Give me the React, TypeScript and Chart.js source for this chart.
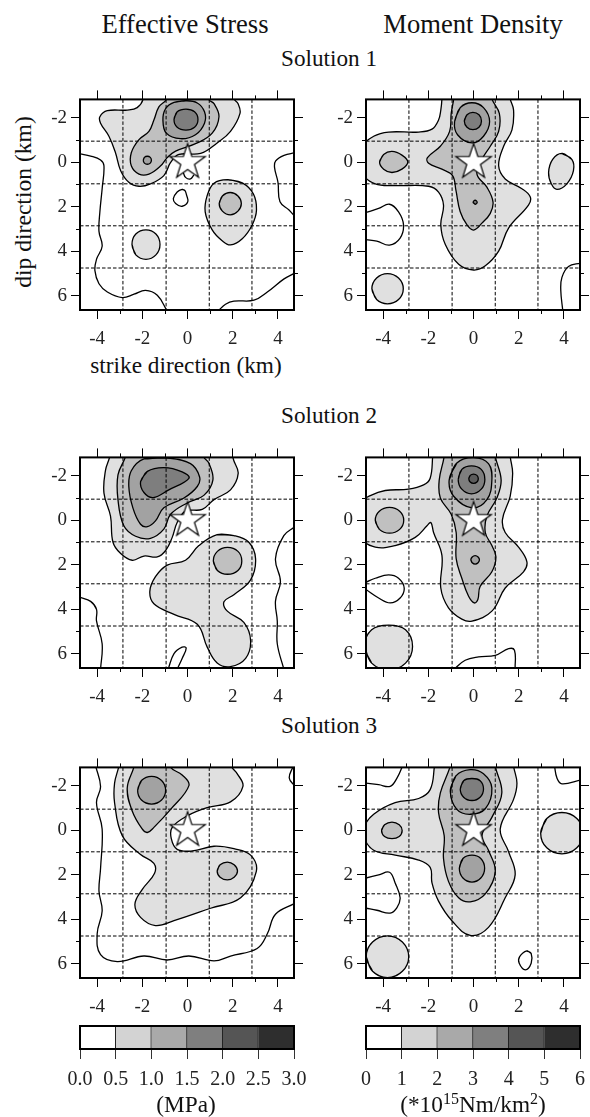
import React, { useEffect, useRef } from "react";
import { Chart, registerables } from "chart.js";
Chart.register(...registerables);

type P = number[][];
const FONT = "'Liberation Serif', 'Times New Roman', serif";

const xMajor = [-4, -2, 0, 2, 4];
const xMinor = [-3, -1, 1, 3];
const yMajor = [-2, 0, 2, 4, 6];
const yMinor = [-1, 1, 3, 5];
const xRange = [-4.76, 4.71];
const yRange = [-2.83, 6.65];
const gridX = [-2.86, -0.95, 0.96, 2.85];
const gridY = [-0.95, 0.97, 2.86, 4.76];
const levelColors = ["#ffffff", "#e0e0e0", "#c0c0c0", "#a2a2a2", "#7e7e7e", "#5c5c5c"];

// Panel 1: Effective Stress, Solution 1
const es1a: P = [[-1.96,-2.86],[-2.23,-2.46],[-2.67,-2.35],[-3.55,-2.32],[-3.88,-2.05],[-3.85,-1.76],[-3.48,-1.17],[-3.19,-0.43],[-2.96,0.38],[-2.6,0.9],[-2.15,1.08],[-1.64,0.97],[-1.05,0.6],[-0.75,0.01],[-0.38,-0.35],[0.58,-0.4],[1.31,-0.87],[1.9,-1.39],[2.32,-2.2],[2.23,-2.64],[2.05,-2.86],[2,-3.3],[-2,-3.3]];
const es1b: P = [[-0.94,-2.83],[-1.27,-2.49],[-1.49,-1.9],[-1.71,-1.39],[-2.15,-1.02],[-2.49,-0.43],[-2.49,0.16],[-2.15,0.53],[-1.71,0.53],[-1.19,0.16],[-0.9,-0.21],[-0.53,-0.5],[0.43,-0.87],[1.09,-1.31],[1.39,-2.05],[1.17,-2.64],[0.94,-2.83],[0.9,-3.3],[-0.9,-3.3]];
const es1c: P = [[-0.6,-2.7],[-0.97,-2.42],[-1.09,-1.9],[-0.94,-1.31],[-0.31,-1.06],[0.35,-1.24],[0.75,-1.76],[0.75,-2.27],[0.43,-2.67],[-0.09,-2.77]];
const es1d: P = [[-0.6,-1.93],[-0.46,-1.58],[-0.07,-1.45],[0.31,-1.58],[0.46,-1.93],[0.31,-2.27],[-0.07,-2.39],[-0.46,-2.27]];
const es1e: P = [[-1.96,-0.09],[-1.91,0.04],[-1.78,0.09],[-1.65,0.04],[-1.6,-0.09],[-1.65,-0.22],[-1.78,-0.27],[-1.91,-0.22]];
const es1f: P = [[-0.24,1.22],[-0.46,1.34],[-0.63,1.64],[-0.53,1.86],[-0.24,1.98],[0.01,1.78],[-0.04,1.49],[-0.12,1.27]];
const es1g: P = [[1.76,0.78],[1.17,0.94],[0.87,1.49],[0.78,2.23],[1.09,3.04],[1.53,3.53],[1.9,3.72],[2.42,3.44],[2.86,2.82],[3.05,2.15],[2.91,1.42],[2.42,0.93]];
const es1h: P = [[1.4,1.86],[1.54,2.2],[1.89,2.37],[2.23,2.2],[2.38,1.86],[2.23,1.52],[1.89,1.36],[1.54,1.52]];
const es1i: P = [[-2.46,3.7],[-2.29,3.23],[-1.84,3.04],[-1.4,3.23],[-1.22,3.7],[-1.4,4.17],[-1.84,4.37],[-2.29,4.17]];
const es1j: P = [[-0.19,0.46],[-0.09,0.68],[0.13,0.75],[0.28,0.57]];
const es1k: P = [[-4.76,-0.38],[-4.29,-0.28],[-3.85,-0.1],[-3.7,0.16],[-3.78,1.19],[-3.88,2.23],[-3.92,3.11],[-3.78,3.78],[-4.03,4.37],[-4.1,4.88],[-3.92,5.47],[-3.55,5.84],[-2.89,6.09],[-2.37,5.94],[-1.86,5.77],[-1.34,5.99],[-0.9,6.7]];
const es1l: P = [[1.35,6.7],[1.68,6.39],[2.05,6.25],[2.94,6.21],[3.53,5.84],[4.27,5.25],[4.75,4.99]];
const es1m: P = [[4.75,-0.43],[4.27,-0.31],[3.9,-0.06],[3.85,0.24],[4,0.9],[4.09,1.78],[4.49,2.15],[4.75,2.45]];

// Panel 2: Moment Density, Solution 1
const md1a: P = [[-1.4,-2.86],[-1.45,-2.35],[-1.55,-1.9],[-1.84,-1.49],[-2.43,-1.36],[-3.76,-1.36],[-4.42,-1.17],[-4.87,-0.72],[-4.87,0.53],[-4.35,0.97],[-3.47,1.05],[-1.99,1.08],[-1.55,1.34],[-1.33,1.93],[-1.45,2.82],[-1.25,3.7],[-0.66,4.59],[0,4.85],[0.52,4.66],[1.11,4],[1.55,2.96],[2.43,1.93],[2.51,1.56],[2.14,1.19],[1.4,0.75],[1.11,0.16],[1.33,-0.72],[1.7,-1.46],[1.77,-2.35],[1.62,-2.86],[1.6,-3.3],[-1.4,-3.3]];
const md1b: P = [[-0.88,-2.86],[-0.99,-2.2],[-1.06,-1.39],[-1.47,-0.72],[-2.04,-0.21],[-1.99,0.04],[-1.4,0.31],[-0.93,0.6],[-0.78,1.27],[-0.59,2.23],[-0.29,2.82],[0,3.05],[0.37,2.74],[0.74,2.3],[0.86,1.78],[0.59,1.12],[0.15,0.53],[0.37,-0.13],[0.74,-0.72],[1.11,-1.39],[1.14,-2.2],[0.81,-2.86],[0.8,-3.3],[-0.88,-3.3]];
const md1c: P = [[-0.84,-1.83],[-0.71,-1.24],[-0.07,-0.87],[0.44,-1.17],[0.71,-1.83],[0.44,-2.46],[-0.07,-2.68],[-0.59,-2.46]];
const md1d: P = [[-0.41,-1.86],[-0.29,-1.58],[-0.03,-1.47],[0.24,-1.58],[0.35,-1.86],[0.24,-2.14],[-0.03,-2.25],[-0.29,-2.14]];
const md1e: P = [[-4.16,-0.01],[-3.98,0.31],[-3.61,0.46],[-3.17,0.31],[-2.91,-0.01],[-3.17,-0.32],[-3.61,-0.49],[-3.98,-0.35]];
const md1f: P = [[-0.02,1.8],[0.07,1.71],[0.16,1.8],[0.07,1.89]];
const md1g: P = [[3.91,-0.4],[3.5,-0.13],[3.32,0.46],[3.44,0.97],[3.69,1.22],[4.13,0.97],[4.42,0.38],[4.35,-0.13]];
const md1h: P = [[-4.5,5.69],[-4.29,5.21],[-3.81,5.01],[-3.32,5.21],[-3.11,5.69],[-3.32,6.18],[-3.81,6.37],[-4.29,6.18]];
const md1i: P = [[-4.76,2.26],[-4.2,2.08],[-3.72,1.89],[-3.32,2.23],[-3.1,2.82],[-3.25,3.41],[-3.72,3.73],[-4.28,3.55],[-4.76,3.48]];
const md1j: P = [[4.75,4.54],[4.2,4.69],[3.91,5.18],[3.86,5.77],[3.95,6.7]];

// Panel 3: Effective Stress, Solution 2
const es2a: P = [[-3.44,-2.88],[-3.63,-2.26],[-3.7,-1.22],[-3.41,-0.19],[-3.3,0.99],[-2.96,1.5],[-2.45,1.8],[-1.93,1.61],[-1.34,1.65],[-0.97,1.36],[-0.68,0.77],[-0.46,0.1],[-0.09,-0.41],[0.65,-0.49],[1.17,-0.93],[1.9,-1.37],[2.24,-2.11],[2.02,-2.77],[2,-3.3],[-3.4,-3.3]];
const es2b: P = [[-2.74,-2.88],[-3.08,-2.04],[-3.08,-0.93],[-2.82,0.25],[-2.3,0.72],[-1.64,0.81],[-1.05,0.4],[-0.75,-0.27],[-0.01,-0.78],[0.72,-1.12],[1.12,-1.81],[0.94,-2.58],[0.72,-2.85],[0.7,-3.3],[-2.7,-3.3]];
const es2c: P = [[-1.93,-2.76],[-2.49,-2.23],[-2.6,-1.52],[-2.42,-0.56],[-2.08,0.18],[-1.78,0.29],[-1.42,0.03],[-1.05,-0.56],[-0.16,-1],[0.43,-1.52],[0.53,-1.96],[0.13,-2.55],[-0.9,-2.8]];
const es2d: P = [[-2.08,-1.74],[-1.93,-1.25],[-1.52,-1.02],[-0.83,-1.37],[0.06,-1.89],[-0.24,-2.18],[-1.05,-2.37],[-1.78,-2.2]];
const es2e: P = [[1.31,0.65],[0.5,1.14],[-0.09,1.8],[-0.9,2.02],[-1.42,2.54],[-1.67,3.2],[-1.49,3.76],[-0.6,4.24],[0.43,4.68],[0.87,5.71],[1.31,6.42],[1.9,6.59],[2.57,6.22],[2.79,5.41],[2.49,4.6],[1.76,4.09],[1.61,3.67],[2.05,3.35],[2.79,2.68],[3.01,1.73],[2.71,0.99],[2.05,0.69]];
const es2f: P = [[1.14,1.83],[1.32,1.4],[1.77,1.22],[2.23,1.4],[2.4,1.83],[2.23,2.26],[1.77,2.43],[1.32,2.26]];
const es2g: P = [[-4.76,3.47],[-4.29,3.65],[-4.03,4.01],[-4.03,4.53],[-3.78,5.56],[-3.85,6.7]];
const es2h: P = [[4.75,0.29],[4.26,0.69],[3.89,1.73],[4.11,2.76],[3.89,3.64],[3.97,4.53],[3.97,5.56],[4.26,6.7]];
const es2i: P = [[-0.86,6.7],[-0.6,6],[-0.24,5.71],[-0.06,5.75],[-0.24,6.22],[-0.46,6.7]];

// Panel 4: Moment Density, Solution 2
const md2a: P = [[-1.81,-2.88],[-1.92,-1.89],[-2.21,-1.59],[-2.88,-1.4],[-3.91,-1.34],[-4.57,-1.11],[-4.87,-0.86],[-4.87,0.84],[-4.35,1.21],[-3.47,1.14],[-2.58,0.77],[-2.06,0.25],[-1.89,0.1],[-1.77,0.55],[-1.4,1.58],[-1.45,3.05],[-1.11,3.94],[-0.52,4.45],[-0.07,4.54],[0.81,4.09],[1.4,3.05],[2.21,2.32],[2.36,1.87],[1.99,1.21],[1.4,0.55],[1.28,-0.04],[1.62,-1.08],[1.73,-2.11],[1.62,-2.88],[1.6,-3.3],[-1.8,-3.3]];
const md2b: P = [[-1.3,-2.88],[-1.52,-1.81],[-1.47,-1],[-0.99,-0.27],[-0.77,0.55],[-0.77,1.73],[-0.52,2.61],[-0.22,3.42],[0.03,3.72],[0.19,3.57],[0.29,2.98],[0.81,2.32],[0.99,1.65],[0.81,1.14],[0.52,0.55],[0.59,-0.19],[1.03,-1],[1.22,-1.81],[0.96,-2.88],[0.95,-3.3],[-1.3,-3.3]];
const md2c: P = [[-1.08,-1.81],[-0.88,-1.08],[-0.07,-0.56],[0.59,-0.93],[0.81,-1.81],[0.66,-2.55],[0,-2.82],[-0.74,-2.58]];
const md2d: P = [[-0.68,-1.84],[-0.52,-1.4],[-0.09,-1.19],[0.34,-1.4],[0.5,-1.84],[0.34,-2.29],[-0.09,-2.45],[-0.52,-2.29]];
const md2e: P = [[-0.21,-1.87],[-0.15,-1.72],[0,-1.66],[0.15,-1.72],[0.21,-1.87],[0.15,-2.02],[0,-2.08],[-0.15,-2.02]];
const md2f: P = [[-0.12,1.78],[-0.06,1.65],[0.07,1.59],[0.2,1.65],[0.26,1.78],[0.2,1.91],[0.07,1.97],[-0.06,1.91]];
const md2g: P = [[-4.35,0],[-4.17,-0.41],[-3.72,-0.58],[-3.27,-0.41],[-3.09,0],[-3.27,0.41],[-3.72,0.58],[-4.17,0.41]];
const md2h: P = [[-4.82,5.68],[-4.51,4.93],[-3.76,4.72],[-3.01,4.93],[-2.7,5.68],[-3.01,6.43],[-3.76,6.74],[-4.51,6.43]];
const md2i: P = [[-4.76,2.79],[-4.35,2.61],[-3.76,2.46],[-3.32,2.61],[-3.07,3.05],[-3.25,3.5],[-3.69,3.72],[-4.2,3.5],[-4.76,3.12]];
const md2j: P = [[-0.85,6.7],[-0.37,6.3],[0.22,6.15],[0.96,6.08],[1.55,5.78],[1.81,5.85],[1.84,6.7]];

// Panel 5: Effective Stress, Solution 3
const es3a: P = [[-3.04,-2.89],[-3.23,-2.12],[-3.23,-1.24],[-2.89,0.24],[-2.08,1.09],[-1.49,1.49],[-1.46,1.93],[-2.01,2.67],[-2.33,3.33],[-2.08,3.92],[-1.42,4.29],[-0.6,4.07],[1.02,3.51],[2.35,3.04],[3.04,1.86],[2.79,1.12],[2.05,0.83],[1.17,0.72],[0.21,0.93],[-0.46,0.86],[-0.72,0.38],[-0.68,-0.13],[-0.01,-0.65],[0.87,-1.02],[1.9,-1.28],[2.45,-1.98],[2.2,-2.54],[1.93,-2.89],[1.9,-3.3],[-3,-3.3]];
const es3b: P = [[-2.37,-2.86],[-2.67,-1.9],[-2.45,-0.87],[-2.01,-0.06],[-1.78,0.1],[-1.49,-0.13],[-0.75,-0.94],[0.06,-2.01],[-0.24,-2.49],[-0.75,-2.83],[-0.8,-3.3],[-2.3,-3.3]];
const es3c: P = [[-2.21,-1.8],[-2.04,-1.36],[-1.59,-1.18],[-1.15,-1.36],[-0.97,-1.8],[-1.15,-2.24],[-1.59,-2.43],[-2.04,-2.24]];
const es3d: P = [[1.31,1.83],[1.44,2.11],[1.76,2.23],[2.06,2.11],[2.21,1.83],[2.06,1.55],[1.76,1.43],[1.44,1.55]];
const es3e: P = [[-4.07,-2.9],[-3.85,-1.97],[-4.03,-1.24],[-3.78,-0.06],[-3.85,1.71],[-3.92,2.74],[-3.78,3.63],[-4,4.66],[-3.85,5.6],[-3.11,5.91],[-1.93,5.66],[-0.9,5.84],[0.06,5.66],[1.17,5.88],[1.9,5.66],[3.08,5.32],[3.53,4.66],[3.89,3.78],[4.75,3.29]];
const es3f: P = [[4.68,-2.9],[4.5,-2.35],[4.75,-1.98]];

// Panel 6: Moment Density, Solution 3
const md3a: P = [[-1.73,-2.89],[-1.92,-1.83],[-2.43,-1.43],[-3.47,-1.24],[-4.42,-0.72],[-4.87,-0.13],[-4.87,0.31],[-4.42,0.9],[-3.47,1.12],[-2.43,1.34],[-1.92,1.67],[-1.84,2.37],[-1.55,3.19],[-0.96,4.07],[-0.15,4.73],[0.66,4.37],[1.4,3.04],[1.84,2.01],[1.55,0.97],[1.18,-0.06],[1.77,-1.39],[1.92,-2.12],[1.77,-2.89],[1.75,-3.3],[-1.7,-3.3]];
const md3b: P = [[-1.03,-2.89],[-1.47,-1.68],[-1.55,-0.8],[-1.3,0.24],[-1.33,1.27],[-1.11,2.3],[-0.66,3.04],[-0.15,3.22],[0.52,2.86],[0.96,1.86],[0.66,0.9],[0.37,0.24],[0.81,-0.58],[1.25,-1.68],[0.96,-2.89],[0.95,-3.3],[-1,-3.3]];
const md3c: P = [[-1.03,-1.76],[-0.74,-0.94],[-0.15,-0.72],[0.52,-0.97],[0.81,-1.9],[0.44,-2.54],[-0.15,-2.73],[-0.78,-2.45]];
const md3d: P = [[-0.59,-1.86],[-0.44,-1.49],[-0.07,-1.34],[0.29,-1.49],[0.44,-1.86],[0.29,-2.23],[-0.07,-2.33],[-0.44,-2.23]];
const md3e: P = [[-0.63,1.71],[-0.47,2.15],[-0.07,2.33],[0.32,2.15],[0.49,1.71],[0.32,1.27],[-0.07,1.12],[-0.47,1.27]];
const md3f: P = [[-4.07,0.01],[-3.94,0.28],[-3.61,0.38],[-3.29,0.28],[-3.16,0.01],[-3.29,-0.25],[-3.61,-0.37],[-3.94,-0.25]];
const md3g: P = [[2.97,0.13],[3.24,0.79],[3.91,1.06],[4.57,0.79],[4.85,0.13],[4.57,-0.53],[3.91,-0.8],[3.24,-0.53]];
const md3h: P = [[-4.75,5.69],[-4.47,5.03],[-3.81,4.75],[-3.15,5.03],[-2.87,5.69],[-3.15,6.35],[-3.81,6.63],[-4.47,6.35]];
const md3i: P = [[-4.76,-2.12],[-4.2,-2.05],[-3.69,-1.98],[-3.39,-2.35],[-3.14,-2.9]];
const md3j: P = [[3.58,-2.9],[3.69,-2.35],[3.91,-2.09],[4.75,-2.27]];
const md3k: P = [[-4.76,2.15],[-4.2,2.01],[-3.72,1.89],[-3.47,2.37],[-3.25,3.04],[-3.39,3.48],[-3.69,3.73],[-4.28,3.6],[-4.76,3.51]];
const md3l: P = [[2.36,5.43],[2.04,5.69],[2.02,5.99],[2.29,6.28],[2.55,5.99],[2.55,5.55]];

// [outline, fill level]: level null = an open contour with no fill; painted back to front
type Layer = [P, number | null];
const panel1: Layer[] = [[es1a,1],[es1b,2],[es1c,3],[es1d,4],[es1e,3],[es1f,0],[es1g,1],[es1h,2],[es1i,1],[es1j,null],[es1k,null],[es1l,null],[es1m,null]];
const panel2: Layer[] = [[md1a,1],[md1b,2],[md1c,3],[md1d,4],[md1e,2],[md1f,4],[md1g,1],[md1h,1],[md1i,null],[md1j,null]];
const panel3: Layer[] = [[es2a,1],[es2b,2],[es2c,3],[es2d,4],[es2e,1],[es2f,2],[es2g,null],[es2h,null],[es2i,null]];
const panel4: Layer[] = [[md2a,1],[md2b,2],[md2c,3],[md2d,4],[md2e,5],[md2f,3],[md2g,2],[md2h,1],[md2i,null],[md2j,null]];
const panel5: Layer[] = [[es3a,1],[es3b,2],[es3c,3],[es3d,2],[es3e,null],[es3f,null]];
const panel6: Layer[] = [[md3a,1],[md3b,2],[md3c,3],[md3d,4],[md3e,3],[md3f,2],[md3g,1],[md3h,1],[md3i,null],[md3j,null],[md3k,null],[md3l,0]];

const barColors = ["#ffffff", "#d3d3d3", "#a9a9a9", "#7f7f7f", "#555555", "#2e2e2e"];
const stressTicks = ["0.0", "0.5", "1.0", "1.5", "2.0", "2.5", "3.0"];
const momentTicks = ["0", "1", "2", "3", "4", "5", "6"];

const framePlugin = {
  id: "frame",
  afterDraw(chart: any, _a: any, opts: any) {
    const { ctx, chartArea: a, scales } = chart;
    ctx.save();
    ctx.strokeStyle = "#000";
    ctx.lineWidth = 1;
    if (opts.minor) {
      ctx.beginPath();
      xMinor.forEach((v) => {
        const p = Math.round(scales.x.getPixelForValue(v)) + 0.5;
        ctx.moveTo(p, a.top - 4); ctx.lineTo(p, a.top);
        ctx.moveTo(p, a.bottom); ctx.lineTo(p, a.bottom + 4);
      });
      yMinor.forEach((v) => {
        const p = Math.round(scales.y.getPixelForValue(v)) + 0.5;
        ctx.moveTo(a.left - 4, p); ctx.lineTo(a.left, p);
        ctx.moveTo(a.right, p); ctx.lineTo(a.right + 4, p);
      });
      ctx.stroke();
    }
    ctx.lineWidth = 2;
    ctx.strokeRect(a.left, a.top, a.right - a.left, a.bottom - a.top);
    ctx.restore();
  },
};

function makeStar(): HTMLCanvasElement {
  const c = document.createElement("canvas");
  c.width = 44; c.height = 44;
  const g = c.getContext("2d")!;
  g.beginPath();
  for (let i = 0; i < 10; i++) {
    const r = i % 2 ? 7.2 : 18.6;
    const t = -Math.PI / 2 + (i * Math.PI) / 5;
    const px = 22 + r * Math.cos(t), py = 22 + r * Math.sin(t);
    if (i) g.lineTo(px, py); else g.moveTo(px, py);
  }
  g.closePath();
  g.fillStyle = "#fff"; g.fill();
  g.strokeStyle = "#000"; g.lineWidth = 1.2; g.stroke();
  return c;
}

const toXY = (p: P) => p.map(([x, y]) => ({ x, y }));
// repeat the last and first vertices so the spline runs smoothly through the seam
const loop = (p: P) => [p[p.length - 1], ...p, p[0]];

function fixedAxis(position: string, size: number, major: number[], range: number[], labels: boolean, reverse = false) {
  const horizontal = position === "top" || position === "bottom";
  return {
    type: "linear", position, min: range[0], max: range[1], reverse,
    border: { display: false },
    grid: { drawOnChartArea: false, drawTicks: true, tickLength: 9, color: "#000", tickColor: "#000", tickWidth: 1 },
    ticks: { display: labels, autoSkip: false, maxRotation: 0, padding: horizontal ? 9 : 4, color: "#222", font: { family: FONT, size: 19 }, callback: (v: number) => String(v) },
    afterBuildTicks: (s: any) => { s.ticks = major.map((value) => ({ value })); },
    afterFit: (s: any) => { if (horizontal) s.height = size; else s.width = size; },
  };
}

const PAD = { l: 60, r: 14, t: 12, b: 44 };
const PLOT = 214;

function Panel({ layers, left, top }: { layers: Layer[]; left: number; top: number }) {
  const ref = useRef<HTMLCanvasElement>(null);
  useEffect(() => {
    const contours = layers.map(([pts, level]) =>
      level === null
        ? { data: toXY(pts), showLine: true, fill: false, borderColor: "#000", borderWidth: 1.3, tension: 0.4, pointRadius: 0 }
        : { data: toXY(loop(pts)), showLine: true, fill: "shape", backgroundColor: levelColors[level], borderColor: "#000", borderWidth: 1.3, tension: 0.4, pointRadius: 0 }
    );
    const dashes = [
      ...gridX.map((x) => ({ data: [{ x, y: yRange[0] }, { x, y: yRange[1] }] })),
      ...gridY.map((y) => ({ data: [{ x: xRange[0], y }, { x: xRange[1], y }] })),
    ].map((d) => ({ ...d, showLine: true, fill: false, borderColor: "#000", borderWidth: 1, borderDash: [3.5, 2], pointRadius: 0 }));
    const star = { data: [{ x: 0, y: 0 }], showLine: false, pointStyle: makeStar(), pointRadius: 10 };
    const chart = new Chart(ref.current!, {
      type: "scatter",
      data: { datasets: [star, ...dashes, ...contours.reverse()] as any },
      options: {
        responsive: false, animation: false, events: [],
        elements: { line: { capBezierPoints: false } },
        layout: { padding: 0 },
        plugins: { legend: { display: false }, tooltip: { enabled: false }, frame: { minor: true } } as any,
        scales: {
          x: fixedAxis("bottom", PAD.b, xMajor, xRange, true),
          y: fixedAxis("left", PAD.l, yMajor, yRange, true, true),
          x2: fixedAxis("top", PAD.t, xMajor, xRange, false),
          y2: fixedAxis("right", PAD.r, yMajor, yRange, false, true),
        } as any,
      },
      plugins: [framePlugin],
    } as any);
    return () => chart.destroy();
  }, [layers]);
  return (
    <canvas ref={ref} width={PLOT + PAD.l + PAD.r} height={PLOT + PAD.t + PAD.b}
      style={{ position: "absolute", left: left - PAD.l, top: top - PAD.t }} />
  );
}

function ColorBar({ labels, unit, left }: { labels: string[]; unit: number; left: number }) {
  const ref = useRef<HTMLCanvasElement>(null);
  useEffect(() => {
    const max = unit * (labels.length - 1);
    const chart = new Chart(ref.current!, {
      type: "bar",
      data: {
        labels: [""],
        datasets: barColors.map((c) => ({ data: [unit], backgroundColor: c, borderColor: "#222", borderWidth: 1, barPercentage: 1, categoryPercentage: 1 })),
      },
      options: {
        indexAxis: "y", responsive: false, animation: false, events: [],
        layout: { padding: { left: 30, right: 30, top: 4, bottom: 0 } },
        plugins: { legend: { display: false }, tooltip: { enabled: false }, frame: { minor: false } } as any,
        scales: {
          x: {
            type: "linear", stacked: true, min: 0, max, position: "bottom",
            border: { display: false },
            grid: { drawOnChartArea: false, drawTicks: true, tickLength: 10, tickColor: "#333" },
            ticks: { autoSkip: false, maxRotation: 0, padding: 9, color: "#222", font: { family: FONT, size: 20 }, callback: (_v: any, i: number) => labels[i] },
            afterBuildTicks: (s: any) => { s.ticks = labels.map((_, i) => ({ value: i * unit })); },
            afterFit: (s: any) => { s.height = 44; },
          },
          y: { stacked: true, display: false },
        } as any,
      },
      plugins: [framePlugin],
    } as any);
    return () => chart.destroy();
  }, [labels, unit]);
  return <canvas ref={ref} width={274} height={71} style={{ position: "absolute", left: left - 30, top: 1022 }} />;
}

function Label({ x, y, size, rotate, children }: { x: number; y: number; size: number; rotate?: boolean; children: React.ReactNode }) {
  return (
    <div style={{
      position: "absolute", left: x, top: y, fontFamily: FONT, fontSize: size, color: "#111", whiteSpace: "nowrap", lineHeight: 1,
      transform: `translate(-50%,-50%)${rotate ? " rotate(-90deg)" : ""}`,
    }}>{children}</div>
  );
}

const supStyle = { fontSize: 16, lineHeight: 0 };

export default function App() {
  return (
    <div style={{ position: "absolute", left: 0, top: 0, width: 590, height: 1117, overflow: "hidden", background: "#fff" }}>
      <Label x={185} y={24} size={26.6}>Effective Stress</Label>
      <Label x={473} y={24} size={26.6}>Moment Density</Label>
      <Label x={329} y={59} size={23.2}>Solution 1</Label>
      <Label x={329} y={416} size={23.2}>Solution 2</Label>
      <Label x={329} y={726} size={23.2}>Solution 3</Label>
      <Label x={186} y={366} size={23.3}>strike direction (km)</Label>
      <Label x={24} y={202} size={23.6} rotate>dip direction (km)</Label>
      <Panel layers={panel1} left={80} top={96} />
      <Panel layers={panel2} left={366} top={96} />
      <Panel layers={panel3} left={80} top={454} />
      <Panel layers={panel4} left={366} top={454} />
      <Panel layers={panel5} left={80} top={764} />
      <Panel layers={panel6} left={366} top={764} />
      <ColorBar labels={stressTicks} unit={0.5} left={80} />
      <ColorBar labels={momentTicks} unit={1} left={366} />
      <Label x={186} y={1105} size={23.3}>(MPa)</Label>
      <Label x={473} y={1105} size={23.3}>(*10<sup style={supStyle}>15</sup>Nm/km<sup style={supStyle}>2</sup>)</Label>
    </div>
  );
}
